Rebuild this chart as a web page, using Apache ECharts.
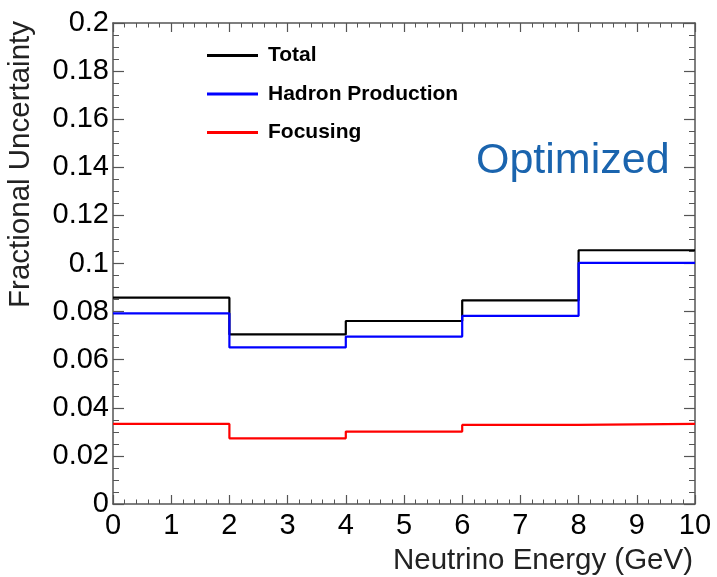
<!DOCTYPE html>
<html>
<head>
<meta charset="utf-8">
<script src="https://cdn.jsdelivr.net/npm/echarts@6/dist/echarts.min.js"></script>
<style>
  html, body { margin: 0; padding: 0; background: #fff; }
  #chart { width: 717px; height: 577px; }
</style>
</head>
<body>
<div id="chart"></div>
<script>
// Bin edges of the neutrino energy histogram (GeV)
const binEdges = [0, 2, 4, 6, 8, 10];

// Fractional uncertainty per energy bin
const totalValues = [0.0858, 0.0705, 0.0761, 0.0847, 0.1055];
const hadronValues = [0.0793, 0.0651, 0.0696, 0.0782, 0.1003];
const focusingValues = [0.0333, 0.0273, 0.0301, 0.0329, 0.0333];

const seriesNames = ['Total', 'Hadron Production', 'Focusing'];
const seriesColors = ['#000000', '#0000ff', '#ff0000'];

// Turn bin contents into step-line points: each bin holds its value up to the next edge
function histPoints(values) {
  const pts = values.map((v, i) => [binEdges[i], v]);
  pts.push([binEdges[binEdges.length - 1], values[values.length - 1]]);
  return pts;
}

const frameColor = '#555';
const labelFont = 'Liberation Sans, Arial, sans-serif';

function xAxisCfg(pos, showLabels) {
  return {
    type: 'value', position: pos, min: 0, max: 10, interval: 1,
    axisLine: { show: true, onZero: false, lineStyle: { color: frameColor, width: 1.5 } },
    axisTick: { show: true, inside: true, length: 9, lineStyle: { color: frameColor, width: 1.2 } },
    minorTick: { show: true, splitNumber: 5, length: 4.5, lineStyle: { color: frameColor, width: 1 } },
    splitLine: { show: false },
    axisLabel: { show: showLabels, color: '#000', fontSize: 29, fontFamily: labelFont, margin: 7 }
  };
}
function yAxisCfg(pos, showLabels) {
  return {
    type: 'value', position: pos, min: 0, max: 0.2, interval: 0.02,
    axisLine: { show: true, onZero: false, lineStyle: { color: frameColor, width: 1.5 } },
    axisTick: { show: true, inside: true, length: 11, lineStyle: { color: frameColor, width: 1.2 } },
    minorTick: { show: true, splitNumber: 4, length: 6, lineStyle: { color: frameColor, width: 1 } },
    splitLine: { show: false },
    axisLabel: { show: showLabels, color: '#000', fontSize: 29, fontFamily: labelFont, margin: 4 }
  };
}

const chart = echarts.init(document.getElementById('chart'), null, { renderer: 'canvas' });

chart.setOption({
  animation: false,
  backgroundColor: '#fff',
  grid: { left: 113, right: 22, top: 23, bottom: 73 },
  xAxis: [xAxisCfg('bottom', true), xAxisCfg('top', false)],
  yAxis: [yAxisCfg('left', true), yAxisCfg('right', false)],
  legend: {
    orient: 'vertical', left: 207, top: 45, padding: 0,
    itemWidth: 51, itemHeight: 3, itemGap: 17.5, icon: 'rect',
    data: seriesNames,
    textStyle: { fontSize: 21, fontWeight: 'bold', fontFamily: labelFont, color: '#000', lineHeight: 21, padding: [0, 0, 0, 5] }
  },
  series: [totalValues, hadronValues, focusingValues].map((vals, i) => ({
    name: seriesNames[i],
    type: 'line',
    step: 'end',
    showSymbol: false,
    xAxisIndex: 0, yAxisIndex: 0,
    data: histPoints(vals),
    color: seriesColors[i],
    lineStyle: { color: seriesColors[i], width: 2.2 }
  })),
  graphic: [
    {
      type: 'text', x: 693, y: 561,
      style: { text: 'Neutrino Energy (GeV)', font: '29.5px ' + labelFont, fill: '#222', align: 'right', verticalAlign: 'middle' }
    },
    {
      type: 'text', x: 21, y: 21, rotation: Math.PI / 2,
      style: { text: 'Fractional Uncertainty', font: '29.5px ' + labelFont, fill: '#222', align: 'right', verticalAlign: 'middle' }
    },
    {
      type: 'text', x: 476, y: 161,
      style: { text: 'Optimized', font: '43px ' + labelFont, fill: '#1a64ae', align: 'left', verticalAlign: 'middle' }
    }
  ]
});
</script>
</body>
</html>
